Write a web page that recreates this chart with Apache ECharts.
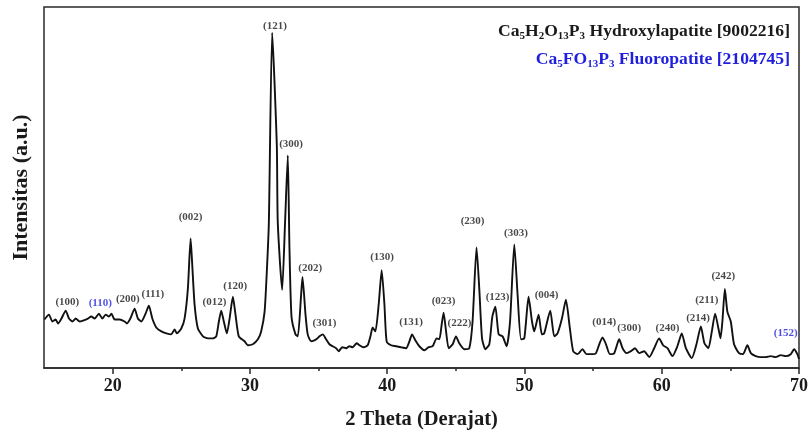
<!DOCTYPE html>
<html>
<head>
<meta charset="utf-8">
<script src="https://cdn.jsdelivr.net/npm/echarts@6/dist/echarts.min.js"></script>
<style>
  html, body { margin: 0; padding: 0; background: #fff; }
  #xrd { width: 811px; height: 435px; }
</style>
</head>
<body>
<div id="xrd"></div>
<script>
// 2 theta (deg) and intensity (a.u.)
var twoTheta = [
  15.03, 15.36, 15.61, 15.85, 16.02, 16.27, 16.58, 16.82, 17.07, 17.31,
  17.60, 17.84, 18.20, 18.45, 18.69, 19.00, 19.25, 19.49, 19.73, 19.91,
  20.15, 20.51, 20.87, 21.04, 21.29, 21.60, 21.84, 22.09, 22.40, 22.64,
  22.89, 23.18, 23.55, 23.91, 24.27, 24.51, 24.68, 25.00, 25.24, 25.48,
  25.68, 25.80, 25.97, 26.21, 26.58, 26.94, 27.30, 27.55, 27.74, 27.91,
  28.10, 28.32, 28.52, 28.76, 28.95, 29.19, 29.61, 29.85, 30.21, 30.58,
  30.82, 31.07, 31.23, 31.38, 31.62, 31.96, 32.03, 32.35, 32.56, 32.76,
  32.88, 33.03, 33.32, 33.49, 33.73, 33.83, 34.05, 34.21, 34.46, 34.83,
  35.07, 35.31, 35.55, 35.79, 36.03, 36.28, 36.47, 36.72, 37.01, 37.25,
  37.49, 37.78, 37.98, 38.27, 38.58, 38.78, 38.94, 39.14, 39.38, 39.60,
  39.80, 39.96, 40.28, 40.65, 41.01, 41.38, 41.62, 41.81, 42.05, 42.34,
  42.71, 43.02, 43.31, 43.60, 43.80, 43.97, 44.11, 44.29, 44.48, 44.77,
  45.01, 45.25, 45.62, 45.98, 46.22, 46.51, 46.71, 46.91, 47.15, 47.44,
  47.66, 47.88, 48.12, 48.41, 48.70, 48.95, 49.26, 49.50, 49.75, 49.99,
  50.30, 50.55, 50.71, 51.03, 51.27, 51.44, 51.88, 52.17, 52.41, 52.73,
  53.02, 53.31, 53.55, 53.87, 54.23, 54.52, 54.96, 55.21, 55.45, 55.69,
  55.94, 56.22, 56.54, 56.90, 57.15, 57.44, 57.76, 58.05, 58.36, 58.72,
  59.09, 59.45, 59.81, 60.10, 60.42, 60.78, 61.14, 61.46, 61.76, 62.19,
  62.53, 62.85, 63.11, 63.40, 63.65, 63.89, 64.13, 64.28, 64.42, 64.60,
  64.78, 65.03, 65.27, 65.63, 65.92, 66.24, 66.49, 66.85, 67.21, 67.58,
  67.94, 68.30, 68.67, 69.03, 69.40, 69.64, 69.88, 70.00
];
var intensity = [
  49, 54, 47, 49, 45, 50, 58, 50, 47, 50,
  47, 48, 50, 52, 50, 55, 50, 54, 52, 55,
  49, 49, 47, 45, 50, 60, 50, 47, 55, 63,
  50, 41, 37, 35, 34, 39, 35, 40, 50, 80,
  131, 104, 64, 40, 32, 30, 30, 32, 47, 58,
  47, 35, 50, 72, 54, 32, 27, 23, 24, 29,
  37, 57, 97, 147, 339, 225, 147, 79, 147, 215,
  122, 52, 34, 32, 74, 92, 54, 34, 27, 29,
  32, 34, 29, 24, 22, 20, 17, 21, 20, 22,
  21, 25, 23, 21, 23, 32, 41, 37, 64, 99,
  64, 27, 23, 22, 21, 20, 27, 34, 28, 22,
  18, 21, 22, 30, 29, 44, 56, 37, 20, 24,
  32, 25, 19, 20, 47, 122, 80, 30, 19, 24,
  52, 62, 34, 32, 22, 47, 125, 74, 29, 30,
  72, 47, 37, 54, 34, 35, 58, 32, 35, 50,
  69, 40, 17, 14, 19, 14, 14, 15, 24, 31,
  24, 14, 15, 29, 20, 15, 17, 20, 15, 17,
  11, 20, 30, 23, 20, 12, 22, 35, 20, 10,
  24, 42, 25, 20, 37, 55, 40, 30, 47, 80,
  57, 47, 24, 15, 14, 23, 15, 12, 11, 11,
  12, 11, 13, 12, 14, 19, 14, 9
];

// peak indexing (phase: 'HA' hydroxylapatite, 'FA' fluoropatite)
var hklText  = ['(100)', '(110)', '(200)', '(111)', '(002)', '(012)', '(120)', '(121)', '(300)', '(202)',
                '(301)', '(130)', '(131)', '(023)', '(222)', '(230)', '(123)', '(303)', '(004)', '(014)',
                '(300)', '(240)', '(214)', '(211)', '(242)', '(152)'];
var hklTheta = [16.70, 19.10, 21.11, 22.93, 25.68, 27.42, 28.93, 31.83, 33.00, 34.39,
                35.43, 39.63, 41.74, 44.11, 45.26, 46.22, 48.04, 49.38, 51.61, 55.81,
                57.63, 60.42, 62.65, 63.28, 64.49, 69.03];
var hklInt   = [67, 66, 70, 75, 153, 67, 83, 346, 226, 101,
                45, 112, 46, 68, 45, 148, 72, 136, 74, 46,
                40, 40, 50, 69, 93, 35];
var hklPhase = ['HA', 'FA', 'HA', 'HA', 'HA', 'HA', 'HA', 'HA', 'HA', 'HA',
                'HA', 'HA', 'HA', 'HA', 'HA', 'HA', 'HA', 'HA', 'HA', 'HA',
                'HA', 'HA', 'HA', 'HA', 'HA', 'FA'];

var majorTicks = [20, 30, 40, 50, 60, 70];
var minorTicks = [25, 35, 45, 55, 65];

var serif = 'Liberation Serif';
var blue = '#1f1fdc';

var pattern = [];
for (var i = 0; i < twoTheta.length; i++) {
  pattern.push([twoTheta[i], intensity[i]]);
}

var hklData = [];
for (var j = 0; j < hklText.length; j++) {
  hklData.push({
    value: [hklTheta[j], hklInt[j]],
    name: hklText[j],
    label: { color: hklPhase[j] === 'FA' ? blue : '#1a1a1a' }
  });
}

var chart = echarts.init(document.getElementById('xrd'));

var option = {
  animation: false,
  grid: {
    left: 44, right: 11, top: 7, bottom: 63,
    show: true, borderColor: '#2a2a2a', borderWidth: 1.5
  },
  xAxis: [
    {
      type: 'value', min: 15, max: 70,
      name: '2 Theta (Derajat)', nameLocation: 'middle', nameGap: 41,
      nameTextStyle: { fontFamily: serif, fontWeight: 'bold', fontSize: 20.5, color: '#1a1a1a' },
      axisLine: { show: true, lineStyle: { color: '#2a2a2a', width: 1.5 } },
      axisTick: { show: true, customValues: majorTicks, length: 6, lineStyle: { color: '#2a2a2a', width: 1.5 } },
      axisLabel: { customValues: majorTicks, margin: 9, fontFamily: serif, fontWeight: 'bold', fontSize: 18, color: '#1a1a1a' },
      splitLine: { show: false }
    },
    {
      type: 'value', min: 15, max: 70, position: 'bottom',
      axisLine: { show: false },
      axisTick: { show: true, customValues: minorTicks, length: 3, lineStyle: { color: '#2a2a2a', width: 1.5 } },
      axisLabel: { show: false },
      splitLine: { show: false }
    }
  ],
  yAxis: {
    type: 'value', min: 0, max: 365,
    name: 'Intensitas (a.u.)', nameLocation: 'middle', nameGap: 12,
    nameTextStyle: { fontFamily: serif, fontWeight: 'bold', fontSize: 22, color: '#1a1a1a' },
    axisLine: { show: false },
    axisTick: { show: false },
    axisLabel: { show: false },
    splitLine: { show: false }
  },
  graphic: [
    {
      type: 'text', right: 21, top: 22,
      style: {
        text: '{m|Ca}{s|5}{m|H}{s|2}{m|O}{s|13}{m|P}{s|3}{m| Hydroxylapatite [9002216]}',
        fill: '#1a1a1a',
        rich: {
          m: { fontFamily: serif, fontWeight: 'bold', fontSize: 17.6, color: '#1a1a1a' },
          s: { fontFamily: serif, fontWeight: 'bold', fontSize: 11, color: '#1a1a1a', padding: [10, 0, 0, 0] }
        }
      }
    },
    {
      type: 'text', right: 21, top: 50,
      style: {
        text: '{m|Ca}{s|5}{m|FO}{s|13}{m|P}{s|3}{m| Fluoropatite [2104745]}',
        fill: blue,
        rich: {
          m: { fontFamily: serif, fontWeight: 'bold', fontSize: 17.6, color: blue },
          s: { fontFamily: serif, fontWeight: 'bold', fontSize: 11, color: blue, padding: [10, 0, 0, 0] }
        }
      }
    }
  ],
  series: [
    {
      type: 'line',
      data: pattern,
      showSymbol: false,
      smooth: 0.2,
      lineStyle: { color: '#111', width: 1.9 },
      z: 3
    },
    {
      type: 'scatter',
      data: hklData,
      symbolSize: 0,
      label: {
        show: true, position: 'inside',
        formatter: '{b}',
        fontFamily: serif, fontWeight: 'bold', fontSize: 11
      },
      z: 4
    }
  ]
};

option && chart.setOption(option);
</script>
</body>
</html>
